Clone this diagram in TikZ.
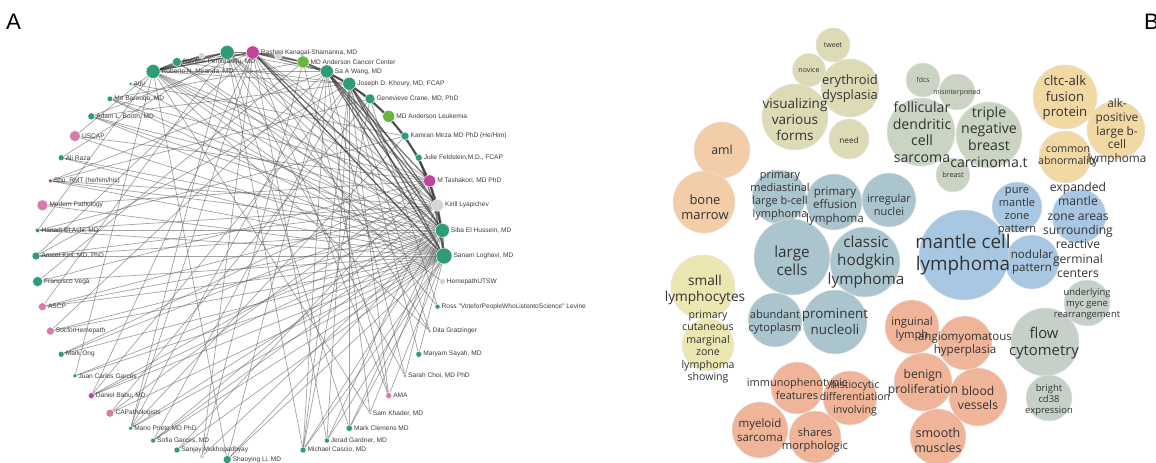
\documentclass[tikz,border=0pt]{standalone}
\usepackage{fontspec}
\setmainfont{Open Sans}
\newfontfamily\netfont{Liberation Sans}
\usepackage{tikz}
\usetikzlibrary{backgrounds}

\definecolor{tl}{HTML}{2E9C7A}
\definecolor{pk}{HTML}{D57CAB}
\definecolor{mg}{HTML}{C2449A}
\definecolor{lg}{HTML}{6CB43F}
\definecolor{gy}{HTML}{D4D4D4}
\definecolor{labtxt}{HTML}{3C3C3C}
\definecolor{olv}{HTML}{DDDBB5}
\definecolor{ylw}{HTML}{ECE7B1}
\definecolor{org}{HTML}{F2CDA7}
\definecolor{bgy}{HTML}{ABC5CE}
\definecolor{blu}{HTML}{A7C7E2}
\definecolor{ggr}{HTML}{CAD4C2}
\definecolor{ggrb}{HTML}{C5D1C8}
\definecolor{gld}{HTML}{F2D8A3}
\definecolor{sal}{HTML}{F0B598}
\definecolor{wtxt}{HTML}{333333}

\tikzset{
  netnode/.style={circle,inner sep=0pt,draw=white,line width=0.3pt},
  netlab/.style={font=\netfont\fontsize{5.6}{6}\selectfont,text=labtxt,inner sep=1pt},
  link/.style={draw=black!65,opacity=0.55,line width=0.6pt},
  tie/.style={draw=black!80,opacity=0.65,line width=1.1pt},
  bub/.style={circle,inner sep=0pt,draw=white!80!gray,line width=0.4pt},
  wtext/.style={text=wtxt,align=center,inner sep=0pt},
  panel/.style={font=\netfont\fontsize{19}{19}\selectfont,inner sep=0pt}
}

\begin{document}
\begin{tikzpicture}[line cap=round,line join=round,x=0.85pt,y=-0.85pt]
\useasboundingbox (0,0) rectangle (1156,463);

\node[panel,anchor=west] (pa) at (6,22) {A};
\node[panel,anchor=west] (pb) at (1144,22) {B};

% twitter network
\begin{scope}[shift={(240,256)}]
\foreach \k/\who/\col/\r in {
  0/{Sanam Loghavi, MD}/tl/8,
  1/{Siba El Hussein, MD}/tl/7,
  2/{Kirill Lyapichev}/gy/6,
  3/{M Tashakori, MD PhD}/mg/6,
  4/{Julie Feldstein,M.D., FCAP}/tl/3.5,
  5/{Kamran Mirza MD PhD (He/Him)}/tl/4,
  6/{MD Anderson Leukemia}/lg/6,
  7/{Genevieve Crane, MD, PhD}/tl/5,
  8/{Joseph D. Khoury, MD, FCAP}/tl/6.5,
  9/{Sa A Wang, MD}/tl/6.5,
  10/{MD Anderson Cancer Center}/lg/6,
  11/{}/gy/4,
  12/{Rashmi Kanagal-Shamanna, MD}/mg/6.5,
  13/{}/tl/7,
  14/{}/gy/3,
  15/{Naveen Pemmaraju, MD}/tl/4.5,
  16/{Roberto N. Miranda, MD}/tl/7,
  17/{arju}/tl/1.8,
  18/{Mo Barouqa, MD}/tl/2.8,
  19/{Adam L. Booth, MD}/tl/3.5,
  20/{USCAP}/pk/5.5,
  21/{Ali Raza}/tl/3,
  22/{Shu, RMT (he/him/his)}/mg/2,
  23/{Modern Pathology}/pk/5.5,
  24/{Hanadi El Achi, MD}/tl/2.3,
  25/{Ameet  Kini, MD, PhD}/tl/4,
  26/{Francisco Vega}/tl/5,
  27/{ASCP}/pk/4,
  28/{SocforHemepath}/pk/4,
  29/{Mark Ong}/tl/3,
  30/{Juan Carlos Garcés}/tl/2,
  31/{Daniel Babu, MD}/mg/3,
  32/{CAPathologists}/pk/4,
  33/{Mario Prieto MD PhD}/tl/2,
  34/{Sofia Garces, MD}/tl/2.5,
  35/{Sanjay Mukhopadhyay}/tl/3,
  36/{}/gy/2.5,
  37/{Shaoying Li, MD}/tl/4,
  40/{Michael Cascio, MD}/tl/3,
  41/{Jerad Gardner, MD}/tl/2.5,
  42/{Mark Clemens MD}/tl/3.2,
  43/{Sam Khader, MD}/tl/1.3,
  44/{AMA}/pk/3,
  45/{Sarah Choi, MD PhD}/tl/1.6,
  46/{Maryam Sayah, MD}/tl/3,
  47/{Dita Gratzinger}/tl/1.5,
  48/{Ross "VoteforPeopleWhoListentoScience" Levine}/tl/2.5,
  49/{HemepathUTSW}/gy/3}
  \node[netnode,fill=\col,minimum size=1.7*\r pt,label={[netlab]right:\who}] (n\k) at ({-7.2*\k}:204) {};
\end{scope}

\begin{scope}[on background layer]
\fill[white] (0,0) rectangle (1156,463);
\foreach \h/\ts in {
  0/{12,13,15,16,17,18,19,20,21,22,23,24,25,26,27,28,29,30,31,32,33,34,35,37,40,41,42,44,46},
  1/{13,15,16,18,19,21,22,24,25,27,28,30,31,33,34,36,37,40,42,43,45},
  2/{12,13,16,19,22,25,27,31,34,41,24,29},
  3/{12,16,20,23,26,29,32,35,18},
  5/{17,24,33},
  8/{15,16,19,25,31,34,40,41,42,44,46,47},
  9/{13,16,22,28,33,37,40,43,45},
  12/{15,16,19,25,31,33,36,41,44,47},
  13/{16,21,27,33,40,42,45,48},
  16/{20,24,30,37,43,47,49},
  10/{18,26,36,44},
  7/{22,32,40,48}}
  \foreach \t in \ts
    \draw[link] (n\h) -- (n\t);
\foreach \a/\b in {0/1,1/2,2/3,3/4,4/5,5/6,6/7,7/8,8/9,9/10,10/11,11/12,12/13,0/2,1/3,2/4,3/5,4/6,5/7,6/8,7/9,8/10,9/12,10/12,0/3,1/4,0/8,1/8,0/9,1/9,2/8,2/9,3/9,0/12,1/12,13/15,15/16,12/16,13/16,14/16}
  \draw[tie] (n\a) -- (n\b);
\end{scope}

% word cloud
\foreach \w/\x/\y/\r/\col in {
  twt/833/45/17/olv, nov/809/70/16.5/olv, ery/850/88/29/olv, vis/795/117/33/olv, ned/849/139/20/olv,
  aml/722/150/28/org, bm/704/202/31/org,
  pml/779/197/27/bgy, pel/834/202/28/bgy, irn/889/200/27/bgy,
  fdc/921/132/34/ggr, fds/923/80/17/ggr, mis/957/92/18/ggr, tnb/989/135/33/ggr, brs/953/175/17/ggr,
  clt/1065/97/32/gld, alk/1116/130/29/gld, cab/1065/157/26/gld,
  pmz/1017/207/25/blu, exp/1079/216/27/blu, nod/1032/262/27/blu, mcl/964/255/45/blu,
  lc/792/257/38/bgy, chl/865/262/35/bgy, abc/775/320/27/bgy, prn/835/322/32/bgy,
  sml/703/287/32/ylw, pcm/708/345/26/ylw,
  imm/797/388/26/sal, his/850/398/27/sal, mys/760/430/28/sal, shm/815/437/26/sal,
  ing/912/327/27/sal, ang/965/343/27/sal, ben/923/382/29/sal, blv/978/397/29/sal, smm/938/437/28/sal,
  flc/1045/342/34/ggrb, umy/1087/303/23/ggrb, bcd/1049/398/23/ggrb}
  \node[bub,fill=\col,minimum size=1.7*\r pt] (\w) at (\x,\y) {};

\foreach \w/\x/\y/\s/\txt in {
  twt/833/45/6/tweet,
  nov/809/70/6/novice,
  ery/850/89/11/{erythroid\\dysplasia},
  vis/795/119/11.5/{visualizing\\various\\forms},
  ned/849/140/7/need,
  aml/722/150/10.5/aml,
  bm/705/207/11/{bone\\marrow},
  pml/780/195/9.3/{primary\\mediastinal\\large b-cell\\lymphoma},
  pel/835/206/9.8/{primary\\effusion\\lymphoma},
  irn/889/205/9.3/{irregular\\nuclei},
  fdc/922/132/12/{follicular\\dendritic\\cell\\sarcoma},
  fds/923/80/5.8/fdcs,
  mis/957/93/5.8/misinterpreted,
  tnb/989/137/12/{triple\\negative\\breast\\carcinoma.t},
  brs/953/175/6.2/breast,
  clt/1065/98/11.2/{cltc-alk\\fusion\\protein},
  alk/1117/132/10/{alk-\\positive\\large b-\\cell\\lymphoma},
  cab/1068/157/9/{common\\abnormality},
  pmz/1017/211/9.4/{pure\\mantle\\zone\\pattern},
  exp/1078/230/10.3/{expanded\\mantle\\zone areas\\surrounding\\reactive\\germinal\\centers},
  nod/1032/262/9.8/{nodular\\pattern},
  mcl/963/255/16/{mantle cell\\lymphoma},
  lc/792/261/13/{large\\cells},
  chl/866/262/13/{classic\\hodgkin\\lymphoma},
  abc/775/322/9.4/{abundant\\cytoplasm},
  prn/835/322/11.4/{prominent\\nucleoli},
  sml/705/290/11.6/{small\\lymphocytes},
  pcm/708/347/9/{primary\\cutaneous\\marginal\\zone\\lymphoma\\showing},
  imm/797/389/9.3/{immunophenotypic\\features},
  his/855/398/9/{histiocytic\\differentiation\\involving},
  mys/760/430/9.8/{myeloid\\sarcoma},
  shm/815/440/9.5/{shares\\morphologic},
  ing/912/329/9.5/{inguinal\\lymph},
  ang/965/344/9.8/{angiomyomatous\\hyperplasia},
  ben/923/383/10.3/{benign\\proliferation},
  blv/978/398/10.3/{blood\\vessels},
  smm/938/440/10.6/{smooth\\muscles},
  flc/1044/343/12.6/{flow\\cytometry},
  umy/1087/304/8/{underlying\\myc gene\\rearrangement},
  bcd/1049/400/8/{bright\\cd38\\expression}}
{
  \pgfmathsetmacro\lsk{1.18*\s}
  \node[wtext,font=\fontsize{\s}{\lsk}\selectfont] (t\w) at (\x,\y) {\txt};
}
\end{tikzpicture}
\end{document}
